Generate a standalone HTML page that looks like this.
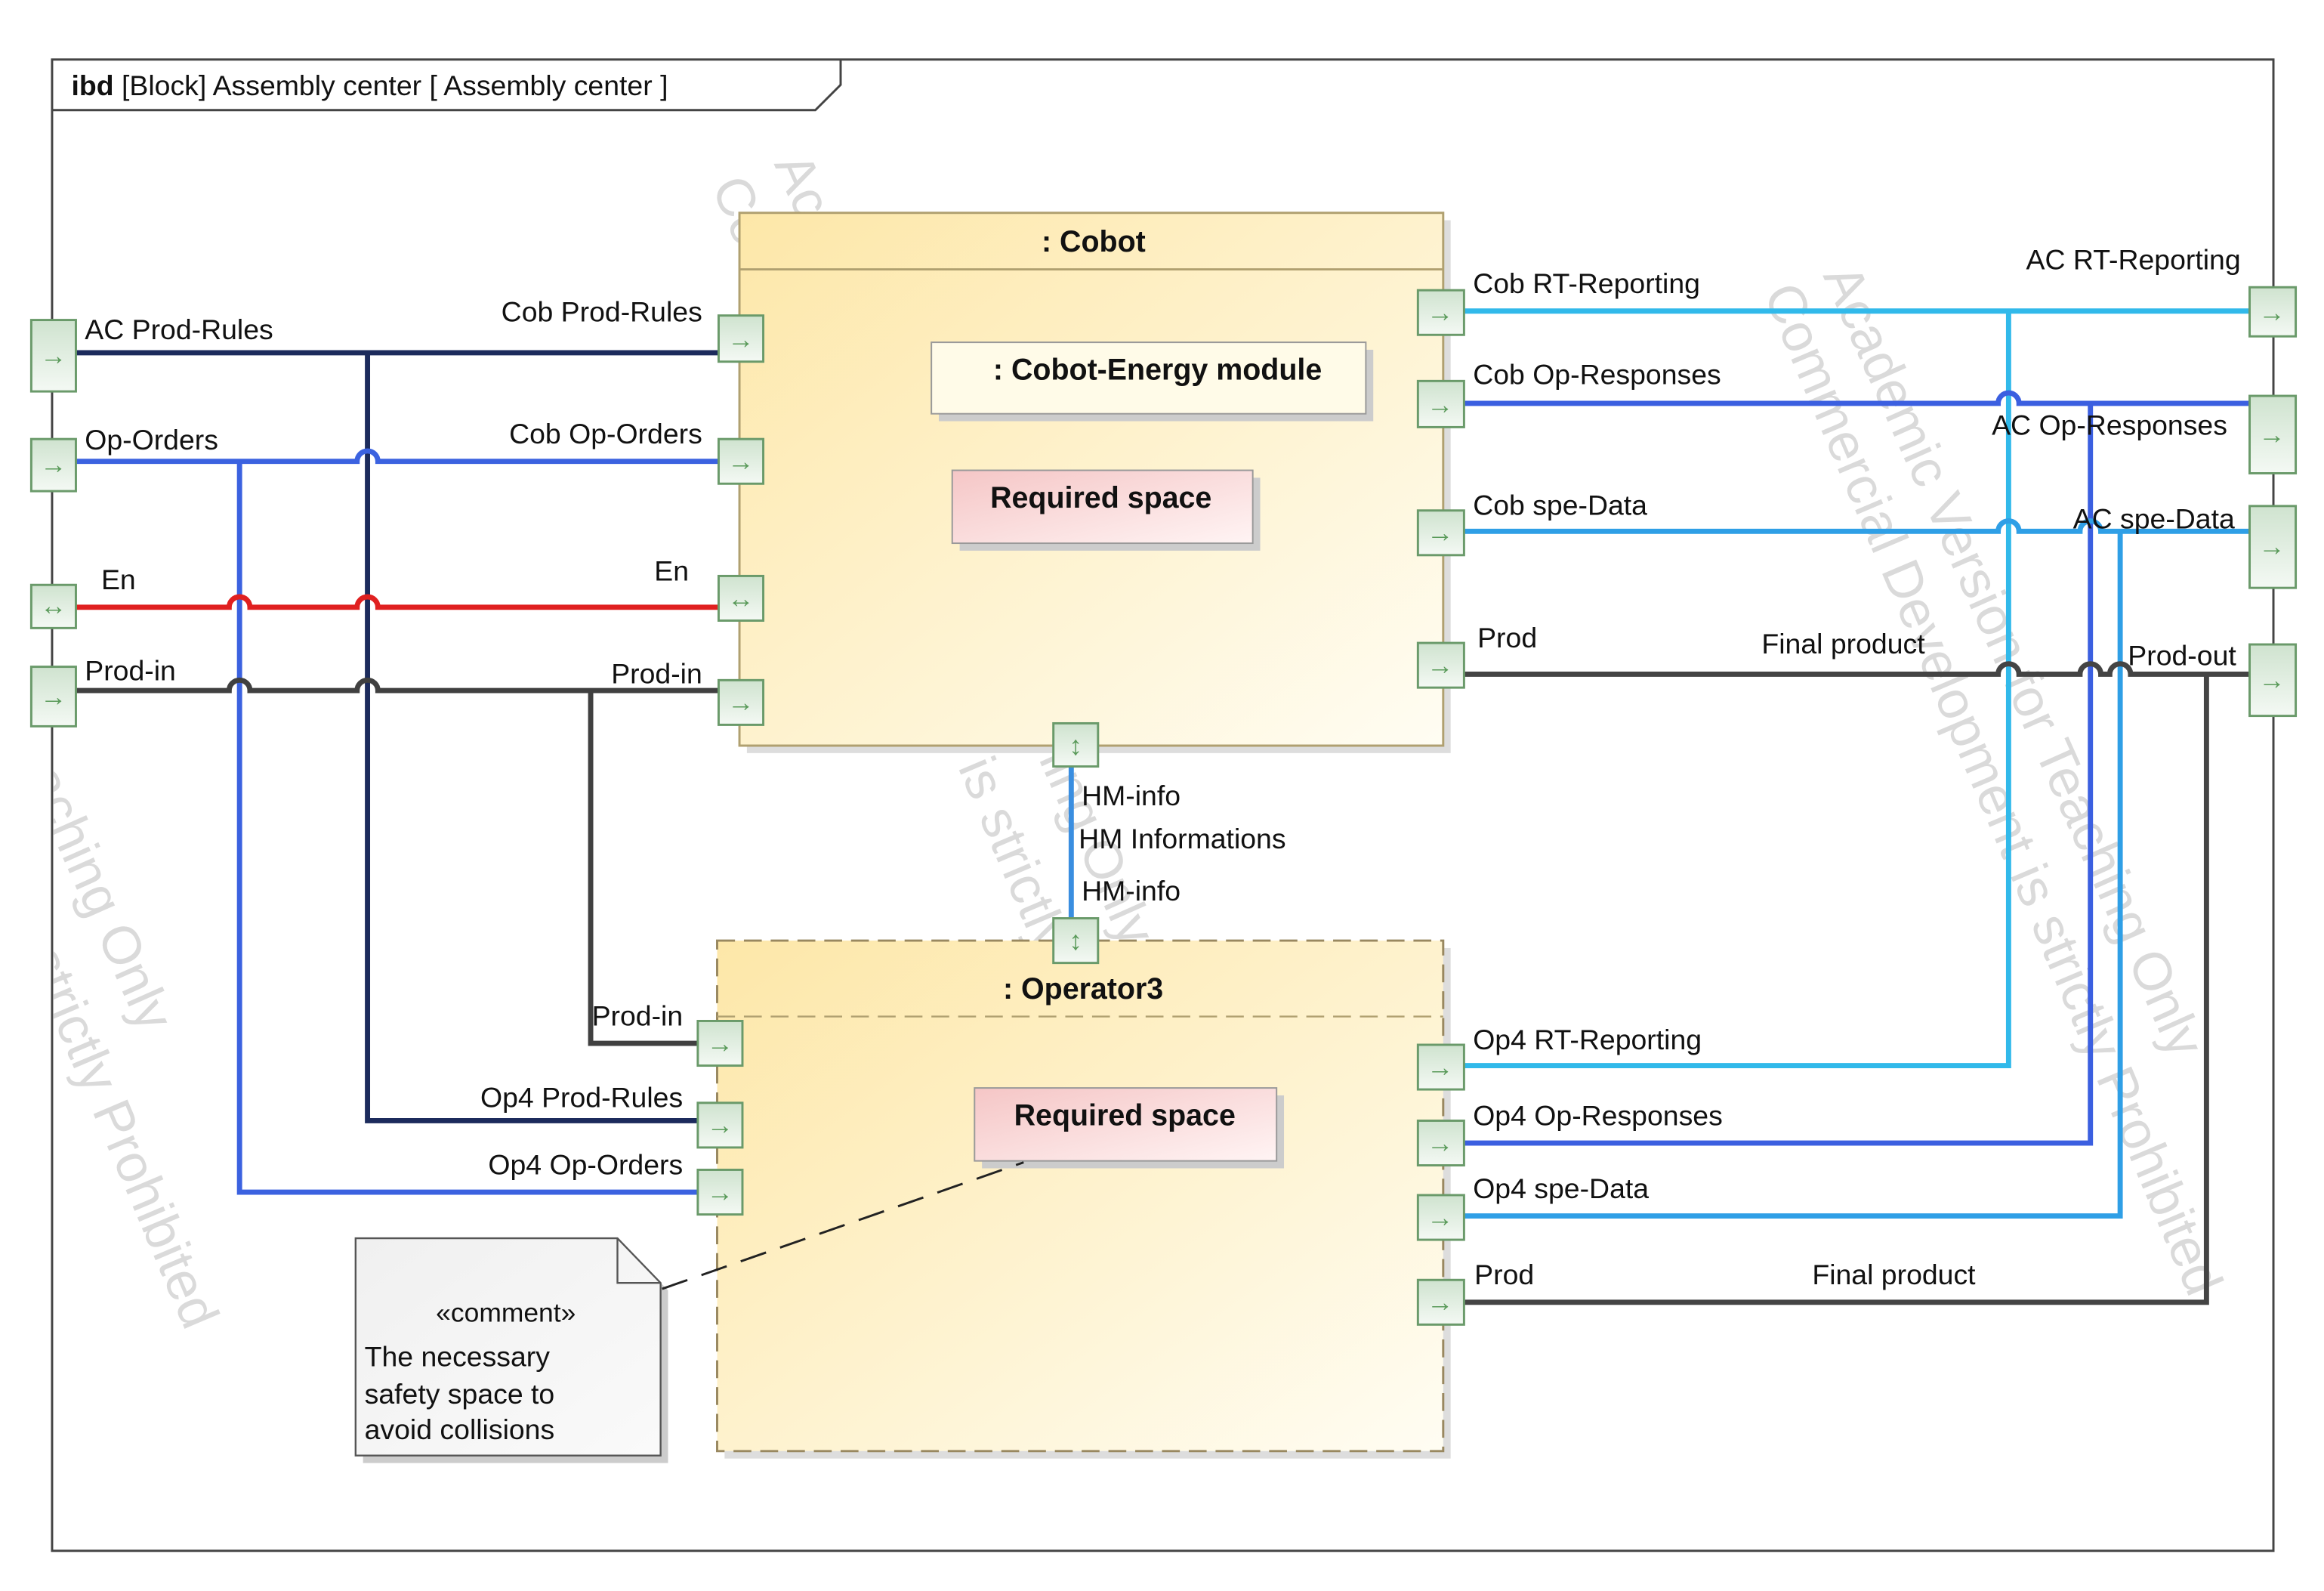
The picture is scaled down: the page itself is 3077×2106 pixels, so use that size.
<!DOCTYPE html>
<html><head><meta charset="utf-8"><style>
html,body{margin:0;padding:0;background:#fff;}
svg{display:block;}
text{font-family:"Liberation Sans",sans-serif;}
</style></head><body>
<svg width="3077" height="2106" viewBox="0 0 1562 1069" preserveAspectRatio="none" xmlns="http://www.w3.org/2000/svg">
<defs>
<linearGradient id="blk" x1="0" y1="0" x2="1" y2="1">
<stop offset="0" stop-color="#fde7a8"/><stop offset="1" stop-color="#fffdf3"/></linearGradient>
<linearGradient id="prt" x1="0" y1="0" x2="0" y2="1">
<stop offset="0" stop-color="#cfe3cf"/><stop offset="1" stop-color="#f4f9f4"/></linearGradient>
<linearGradient id="pink" x1="0" y1="0" x2="1" y2="1">
<stop offset="0" stop-color="#f5c6c6"/><stop offset="1" stop-color="#fff4f4"/></linearGradient>
<linearGradient id="nt" x1="0" y1="0" x2="1" y2="1">
<stop offset="0" stop-color="#f0f0f0"/><stop offset="1" stop-color="#fafafa"/></linearGradient>
<clipPath id="fr"><rect x="36" y="75" width="1491" height="966"/></clipPath>
</defs>
<rect width="1562" height="1069" fill="#fff"/>
<!-- watermark -->
<g fill="#dadada" font-size="36" font-family="Liberation Sans,sans-serif" clip-path="url(#fr)">
<text transform="translate(1225,185) rotate(66)">Academic Version for Teaching Only</text>
<text transform="translate(1185,197) rotate(67)">Commercial Development is strictly Prohibited</text>
<text transform="translate(520,110) rotate(66)">Academic Version for Teaching Only</text>
<text transform="translate(478,125) rotate(67)">Commercial Development is strictly Prohibited</text>
<text text-anchor="end" transform="translate(95,695) rotate(66)">Academic Version for Teaching Only</text>
<text text-anchor="end" transform="translate(125,895) rotate(67)">Commercial Development is strictly Prohibited</text>
</g>
<!-- frame -->
<rect x="35" y="40" width="1493" height="1002" fill="none" stroke="#444" stroke-width="1.5"/>
<path d="M35 74 H548 L565 57 V40" fill="none" stroke="#444" stroke-width="1.5"/>
<text x="48" y="64" font-size="19" fill="#111"><tspan font-weight="bold">ibd</tspan> [Block] Assembly center [ Assembly center ]</text>

<!-- blocks -->
<rect x="502" y="148" width="473" height="358" fill="#ddd"/>
<rect x="497" y="143" width="473" height="358" fill="url(#blk)" stroke="#b0a070" stroke-width="1.5"/>
<line x1="497" y1="181" x2="970" y2="181" stroke="#b0a070" stroke-width="1.5"/>
<text x="735" y="169" font-size="20" font-weight="bold" text-anchor="middle" fill="#111">: Cobot</text>
<rect x="631" y="235" width="292" height="48" fill="#ccc"/>
<rect x="626" y="230" width="292" height="48" fill="#fffbe8" stroke="#999"/>
<text x="778" y="255" font-size="20" font-weight="bold" text-anchor="middle" fill="#111">: Cobot-Energy module</text>
<rect x="645" y="321" width="202" height="49" fill="#ccc"/>
<rect x="640" y="316" width="202" height="49" fill="url(#pink)" stroke="#999"/>
<text x="740" y="341" font-size="20" font-weight="bold" text-anchor="middle" fill="#111">Required space</text>

<rect x="487" y="637" width="488" height="343" fill="#ddd"/>
<rect x="482" y="632" width="488" height="343" fill="url(#blk)" stroke="#998860" stroke-width="1.5" stroke-dasharray="12,6"/>
<line x1="482" y1="683" x2="970" y2="683" stroke="#b0a070" stroke-width="1.2" stroke-dasharray="12,6"/>
<text x="728" y="671" font-size="20" font-weight="bold" text-anchor="middle" fill="#111">: Operator3</text>
<rect x="660" y="736" width="203" height="49" fill="#ccc"/>
<rect x="655" y="731" width="203" height="49" fill="url(#pink)" stroke="#999"/>
<text x="756" y="756" font-size="20" font-weight="bold" text-anchor="middle" fill="#111">Required space</text>

<!-- note -->
<path d="M244 837 H420 L449 867 V983 H244 Z" fill="#ccc"/>
<path d="M239 832 H415 L444 862 V978 H239 Z" fill="url(#nt)" stroke="#555" stroke-width="1.2"/>
<path d="M415 832 V862 H444" fill="none" stroke="#555" stroke-width="1.2"/>
<text x="340" y="888" font-size="18" text-anchor="middle" fill="#111">«comment»</text>
<text x="245" y="918" font-size="19" fill="#111">The necessary</text>
<text x="245" y="943" font-size="19" fill="#111">safety space to</text>
<text x="245" y="967" font-size="19" fill="#111">avoid collisions</text>
<line x1="445" y1="866" x2="688" y2="781" stroke="#222" stroke-width="1.5" stroke-dasharray="18,10"/>

<!-- connectors -->
<g fill="none" stroke-width="3.5">
<path d="M51 237 H483 M247 237 V753 H469" stroke="#1c2b5c"/>
<path d="M51 310 H240 a7 7 0 0 1 14 0 H483 M161 310 V801 H469" stroke="#3b62e0"/>
<path d="M51 408 H154 a7 7 0 0 1 14 0 H240 a7 7 0 0 1 14 0 H483" stroke="#e02020"/>
<path d="M51 464 H154 a7 7 0 0 1 14 0 H240 a7 7 0 0 1 14 0 H483 M397 464 V701 H469" stroke="#404040"/>
<path d="M720 515 V617" stroke="#3a8ee0"/>
<path d="M984 209 H1512 M1350 209 V716 H984" stroke="#31b9ea"/>
<path d="M984 271 H1343 a7 7 0 0 1 14 0 H1512 M1405 271 V768 H984" stroke="#3b5fe0"/>
<path d="M984 357 H1343 a7 7 0 0 1 14 0 H1398 a7 7 0 0 1 14 0 H1512 M1425 357 V817 H984" stroke="#2f9fe6"/>
<path d="M984 453 H1343 a7 7 0 0 1 14 0 H1398 a7 7 0 0 1 14 0 H1418 a7 7 0 0 1 14 0 H1512 M1483 453 V875 H984" stroke="#444"/>
</g>

<!-- ports -->
<g fill="url(#prt)" stroke="#6a9a6a" stroke-width="1.5">
<rect x="21" y="215" width="30" height="48"/>
<rect x="21" y="295" width="30" height="35"/>
<rect x="21" y="393" width="30" height="29"/>
<rect x="21" y="448" width="30" height="40"/>
<rect x="483" y="212" width="30" height="31"/>
<rect x="483" y="295" width="30" height="30"/>
<rect x="483" y="387" width="30" height="30"/>
<rect x="483" y="457" width="30" height="30"/>
<rect x="953" y="195" width="31" height="30"/>
<rect x="953" y="256" width="31" height="31"/>
<rect x="953" y="343" width="31" height="30"/>
<rect x="953" y="432" width="31" height="30"/>
<rect x="708" y="486" width="30" height="29"/>
<rect x="708" y="617" width="30" height="30"/>
<rect x="469" y="686" width="30" height="30"/>
<rect x="469" y="741" width="30" height="30"/>
<rect x="469" y="786" width="30" height="30"/>
<rect x="953" y="702" width="31" height="30"/>
<rect x="953" y="753" width="31" height="30"/>
<rect x="953" y="803" width="31" height="30"/>
<rect x="953" y="860" width="31" height="30"/>
<rect x="1512" y="193" width="31" height="33"/>
<rect x="1512" y="266" width="31" height="52"/>
<rect x="1512" y="340" width="31" height="55"/>
<rect x="1512" y="433" width="31" height="48"/>
</g>
<g fill="#5a9a5a" font-size="18" text-anchor="middle" font-family="DejaVu Sans,sans-serif">
<text x="36" y="245">→</text><text x="36" y="318">→</text><text x="36" y="413">↔</text><text x="36" y="474">→</text>
<text x="498" y="234">→</text><text x="498" y="316">→</text><text x="498" y="408">↔</text><text x="498" y="478">→</text>
<text x="968" y="216">→</text><text x="968" y="278">→</text><text x="968" y="364">→</text><text x="968" y="453">→</text>
<text x="723" y="507">↕</text><text x="723" y="638">↕</text>
<text x="484" y="707">→</text><text x="484" y="762">→</text><text x="484" y="807">→</text>
<text x="968" y="723">→</text><text x="968" y="774">→</text><text x="968" y="824">→</text><text x="968" y="881">→</text>
<text x="1527" y="216">→</text><text x="1527" y="298">→</text><text x="1527" y="373">→</text><text x="1527" y="463">→</text>
</g>

<!-- labels -->
<g font-size="19" fill="#111">
<text x="57" y="228">AC Prod-Rules</text>
<text x="57" y="302">Op-Orders</text>
<text x="68" y="396">En</text>
<text x="57" y="457">Prod-in</text>
<text x="472" y="216" text-anchor="end">Cob Prod-Rules</text>
<text x="472" y="298" text-anchor="end">Cob Op-Orders</text>
<text x="463" y="390" text-anchor="end">En</text>
<text x="472" y="459" text-anchor="end">Prod-in</text>
<text x="990" y="197">Cob RT-Reporting</text>
<text x="990" y="258">Cob Op-Responses</text>
<text x="990" y="346">Cob spe-Data</text>
<text x="993" y="435">Prod</text>
<text x="1184" y="439">Final product</text>
<text x="1506" y="181" text-anchor="end">AC RT-Reporting</text>
<text x="1497" y="292" text-anchor="end">AC Op-Responses</text>
<text x="1502" y="355" text-anchor="end">AC spe-Data</text>
<text x="1503" y="447" text-anchor="end">Prod-out</text>
<text x="727" y="541">HM-info</text>
<text x="725" y="570">HM Informations</text>
<text x="727" y="605">HM-info</text>
<text x="459" y="689" text-anchor="end">Prod-in</text>
<text x="459" y="744" text-anchor="end">Op4  Prod-Rules</text>
<text x="459" y="789" text-anchor="end">Op4 Op-Orders</text>
<text x="990" y="705">Op4 RT-Reporting</text>
<text x="990" y="756">Op4 Op-Responses</text>
<text x="990" y="805">Op4 spe-Data</text>
<text x="991" y="863">Prod</text>
<text x="1218" y="863">Final product</text>
</g>
</svg>
</body></html>
